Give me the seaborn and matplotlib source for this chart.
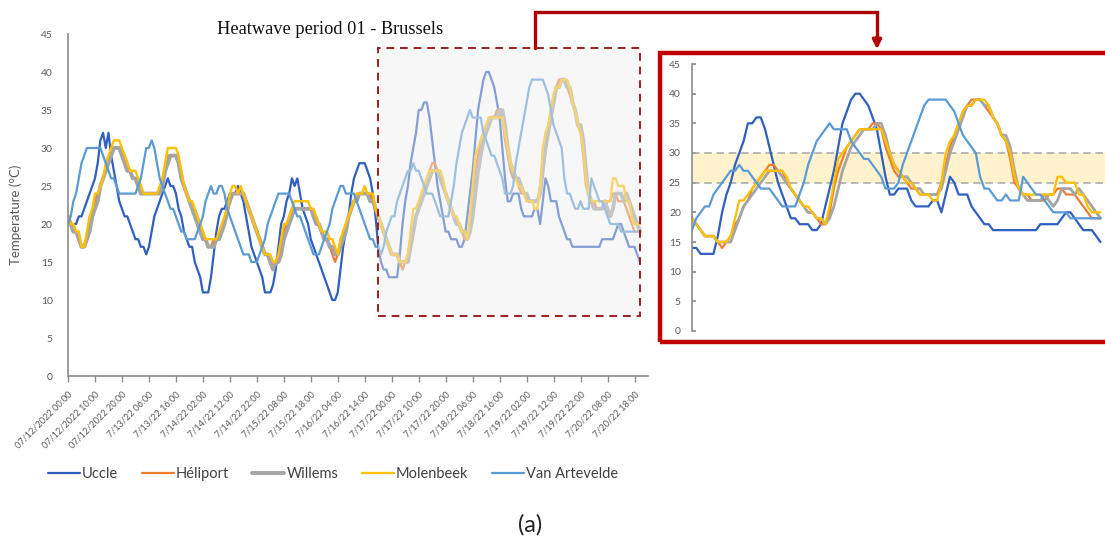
import numpy as np
import pandas as pd
import matplotlib
matplotlib.use("Agg")
import matplotlib.pyplot as plt
import seaborn as sns
from matplotlib.patches import Rectangle, FancyArrowPatch
from matplotlib.lines import Line2D

# ---------------- data (hourly temperatures, 07/12/2022 00:00 onwards) ----------------
stations = ["Uccle", "Héliport", "Willems", "Molenbeek", "Van Artevelde"]

uccle = [21,20,20,20,21,21,22,23,24,25,
         26,28,31,32,30,32,29,27,25,23,
         22,21,21,20,19,18,18,17,17,16,
         17,19,21,22,23,24,25,26,25,25,
         24,22,21,19,18,17,17,15,14,13,
         11,11,11,13,16,19,21,22,22,23,
         24,24,24,25,24,23,21,19,17,16,
         15,14,13,11,11,11,12,14,17,20,
         21,23,24,26,25,26,24,22,21,20,
         18,17,16,15,14,13,12,11,10,10,
         11,14,17,19,21,24,26,27,28,28,
         28,27,26,24,21,17,15,14,14,13,
         13,13,13,16,20,23,25,28,30,32,
         35,35,36,36,34,31,28,25,23,21,
         19,19,18,18,18,17,17,18,21,24,
         27,31,35,37,39,40,40,39,38,36,
         34,30,26,23,23,24,24,24,22,21,
         21,21,21,22,22,20,23,26,25,23,
         23,23,21,20,19,18,18,17,17,17,
         17,17,17,17,17,17,17,17,18,18,
         18,18,18,19,20,20,19,18,17,17,
         17,16,15]

heliport = [21,20,19,19,18,17,17,18,20,21,
            23,24,25,26,27,28,29,30,30,30,
            29,29,28,27,26,26,26,25,24,24,
            24,24,24,24,24,26,27,29,29,29,
            29,28,27,25,24,23,22,22,21,20,
            19,18,17,17,18,18,18,19,20,21,
            23,24,24,24,24,24,23,22,21,20,
            19,18,17,16,16,15,14,15,16,17,
            19,20,21,22,22,22,22,22,22,22,
            22,21,21,20,19,18,18,17,16,15,
            16,17,19,20,21,22,23,23,24,24,
            24,24,24,23,22,21,20,19,18,17,
            16,16,16,15,14,15,16,18,19,21,
            22,24,25,26,27,28,28,27,27,25,
            24,23,22,21,20,20,19,18,18,20,
            24,27,29,31,32,33,34,34,34,35,
            35,34,31,29,27,26,26,25,24,24,
            23,23,23,23,23,25,28,31,33,35,
            37,38,39,39,39,38,37,36,35,33,
            32,29,25,24,23,23,22,22,22,22,
            23,23,24,24,23,23,23,22,21,20,
            19,19,19]

willems = [21,20,19,19,18,17,17,18,19,21,
           22,23,25,26,27,28,29,30,30,30,
           29,28,27,27,26,26,25,24,24,24,
           24,24,24,24,24,25,27,28,29,29,
           29,28,26,25,24,23,22,21,20,19,
           18,18,17,17,17,18,18,19,20,22,
           23,24,24,24,24,24,23,22,21,20,
           19,18,17,16,16,15,14,15,15,16,
           18,19,20,21,22,22,22,22,22,22,
           22,21,20,20,19,18,18,17,17,16,
           16,17,18,19,21,22,23,23,24,24,
           24,24,23,23,22,21,20,19,18,17,
           16,16,16,15,15,15,15,17,19,21,
           22,23,24,25,26,27,27,27,26,25,
           24,23,22,21,20,20,19,19,18,19,
           21,24,27,29,31,32,33,34,34,34,
           35,35,33,30,28,27,26,26,25,24,
           24,23,23,23,23,24,27,30,32,34,
           36,38,38,39,39,38,38,36,35,33,
           33,31,27,24,23,22,22,22,22,23,
           22,21,22,24,24,24,23,24,23,22,
           21,20,19]

molenbeek = [21,20,20,19,19,17,17,19,21,22,
             24,24,25,26,28,29,30,31,31,31,
             30,29,28,27,27,27,26,25,24,24,
             24,24,24,24,25,26,28,30,30,30,
             30,29,27,25,24,23,23,22,21,20,
             19,18,18,18,18,18,19,20,21,22,
             24,25,25,24,25,24,23,22,21,20,
             19,18,17,16,16,16,15,15,16,18,
             20,20,21,22,23,23,23,23,23,23,
             22,22,21,20,19,19,19,18,18,17,
             16,18,19,20,21,22,23,24,24,24,
             25,24,24,24,22,21,20,19,18,17,
             16,16,16,15,15,15,16,19,22,22,
             23,24,25,26,27,27,27,27,27,26,
             24,23,22,21,21,20,19,19,18,21,
             25,29,30,31,32,33,34,34,34,34,
             34,34,32,30,28,27,26,25,25,24,
             23,23,23,22,22,25,30,32,33,35,
             37,38,38,39,39,39,38,36,35,33,
             32,30,26,24,23,23,23,23,23,23,
             23,23,26,26,25,25,25,23,23,21,
             20,20,20]

van_artevelde = [20,21,23,24,26,28,29,30,30,30,
                 30,30,30,29,28,27,26,26,25,24,
                 24,24,24,24,24,24,25,26,28,30,
                 30,31,30,28,26,25,24,23,22,22,
                 21,20,19,19,18,18,18,18,19,20,
                 21,23,24,25,24,24,25,25,24,22,
                 21,20,19,18,17,16,16,16,15,15,
                 15,16,17,18,20,21,22,23,24,24,
                 24,24,24,23,22,21,21,20,19,18,
                 17,16,16,16,17,18,19,20,22,23,
                 24,25,25,24,24,24,24,23,22,21,
                 20,19,18,18,17,17,16,17,19,20,
                 21,21,23,24,25,26,27,27,28,27,
                 27,26,25,24,24,24,23,22,21,21,
                 21,21,23,25,28,30,32,33,34,35,
                 34,34,34,34,32,31,30,29,29,28,
                 27,26,24,24,24,25,28,30,32,34,
                 36,38,39,39,39,39,39,38,37,35,
                 33,32,31,30,26,24,24,23,22,22,
                 23,22,22,22,26,25,24,23,23,22,
                 21,20,20,20,20,19,19,19,19,19,
                 19,19,19]

tick_labels = ["07/12/2022 00:00", "07/12/2022 10:00", "07/12/2022 20:00",
               "7/13/22 06:00", "7/13/22 16:00", "7/14/22 02:00", "7/14/22 12:00",
               "7/14/22 22:00", "7/15/22 08:00", "7/15/22 18:00", "7/16/22 04:00",
               "7/16/22 14:00", "7/17/22 00:00", "7/17/22 10:00", "7/17/22 20:00",
               "7/18/22 06:00", "7/18/22 16:00", "7/19/22 02:00", "7/19/22 12:00",
               "7/19/22 22:00", "7/20/22 08:00", "7/20/22 18:00"]
tick_step = 10  # hours between labels

series = {"Uccle": uccle, "Héliport": heliport, "Willems": willems,
          "Molenbeek": molenbeek, "Van Artevelde": van_artevelde}
frames = []
for name, vals in series.items():
    frames.append(pd.DataFrame({"hour": np.arange(len(vals)), "temp": vals, "station": name}))
df = pd.concat(frames, ignore_index=True)

colors = {"Uccle": "#2f5fbf", "Héliport": "#ed7d31", "Willems": "#a5a5a5",
          "Molenbeek": "#ffc000", "Van Artevelde": "#5b9bd5"}
widths = {"Uccle": 1.6, "Héliport": 1.6, "Willems": 2.8, "Molenbeek": 1.7, "Van Artevelde": 1.6}

# ---------------- figure ----------------
sns.set_theme(style="white")
plt.rcParams['font.family'] = ['Lato', 'DejaVu Sans']

W, H = 1105, 549
fig = plt.figure(figsize=(W / 100, H / 100), dpi=100)


def fr(x0, y0, x1, y1):
    return [x0 / W, 1 - y1 / H, (x1 - x0) / W, (y1 - y0) / H]


grey_txt = "#595959"
axis_col = "#8c8c8c"

# main chart
ax = fig.add_axes(fr(68, 34, 648, 376))
for s in stations:
    sns.lineplot(data=df[df.station == s], x="hour", y="temp", color=colors[s],
                 linewidth=widths[s], ax=ax, label=s, legend=False, errorbar=None)
ax.set_xlim(0, 215)
ax.set_ylim(0, 45)
ax.set_yticks(np.arange(0, 46, 5))
ax.set_xticks(np.arange(len(tick_labels)) * tick_step)
ax.set_xticklabels(tick_labels, rotation=45, ha="right", rotation_mode="anchor")
ax.tick_params(axis="x", length=4, width=1, color=axis_col, labelsize=6.6,
               labelcolor=grey_txt, pad=6, bottom=True)
ax.tick_params(axis="y", length=0, labelsize=7.5, labelcolor=grey_txt, pad=11)
for sp in ["top", "right"]:
    ax.spines[sp].set_visible(False)
for sp in ["left", "bottom"]:
    ax.spines[sp].set_color(axis_col)
    ax.spines[sp].set_linewidth(1.2)
ax.set_xlabel("")
ax.set_ylabel("Temperature (°C)", fontsize=9.5, color=grey_txt)
ax.yaxis.set_label_coords(-(68 - 22) / 580, 0.47)

# highlighted period box
ax.add_patch(Rectangle((114.8, 7.9), 97.2, 35.3, facecolor="#eeeeee", alpha=0.45,
                       edgecolor="none", zorder=5))
ax.add_patch(Rectangle((114.8, 7.9), 97.2, 35.3, fill=False, edgecolor="#9c1f1f",
                       linestyle=(0, (4, 3)), linewidth=1.4, zorder=6))

fig.text(330 / W, 1 - 29 / H, "Heatwave period 01 - Brussels", family="Liberation Serif",
         fontsize=13.2, ha="center", va="center", color="#111111")

# connector arrow
red = "#b00000"
fig.add_artist(Line2D([535 / W, 535 / W, 877 / W, 877 / W],
                      [1 - 48 / H, 1 - 12 / H, 1 - 12 / H, 1 - 38 / H],
                      transform=fig.transFigure, color=red, lw=2.4,
                      solid_joinstyle="miter"))
fig.add_artist(FancyArrowPatch((877 / W, 1 - 34 / H), (877 / W, 1 - 52 / H),
                               transform=fig.transFigure, arrowstyle="-|>",
                               mutation_scale=13, color=red, lw=2.4))

# inset frame
fig.add_artist(Rectangle((660 / W, 1 - 342 / H), 500 / W, (342 - 53) / H,
                         transform=fig.transFigure, fill=False, edgecolor="#c00000", lw=3.2))

# inset chart
ax2 = fig.add_axes(fr(692, 64, 1105, 331))
ax2.axhspan(25, 30, color="#fff2cc", zorder=0, lw=0)
ax2.axhline(25, color="#a6a6a6", ls=(0, (5, 3)), lw=1.1, zorder=1)
ax2.axhline(30, color="#a6a6a6", ls=(0, (5, 3)), lw=1.1, zorder=1)
for s in stations:
    sns.lineplot(data=df[df.station == s], x="hour", y="temp", color=colors[s],
                 linewidth=1.6 if s != "Willems" else 2.0, ax=ax2, legend=False, errorbar=None)
ax2.set_xlim(117, 117 + (1105 - 692) / 4.3)
ax2.set_ylim(0, 45)
ax2.set_yticks(np.arange(0, 46, 5))
ax2.set_xticks([])
ax2.set_xlabel("")
ax2.set_ylabel("")
ax2.tick_params(axis="y", direction="in", length=3, color=axis_col, labelsize=7.5,
                labelcolor=grey_txt, pad=8, left=True)
for sp in ["top", "right", "bottom"]:
    ax2.spines[sp].set_visible(False)
ax2.spines["left"].set_color(axis_col)
ax2.spines["left"].set_linewidth(1.2)
ax2.patch.set_alpha(0)

# legend
handles = [Line2D([], [], color=colors[s], lw=widths[s]) for s in stations]
leg = fig.legend(handles, stations, loc="center", bbox_to_anchor=(333 / W, 1 - 474 / H),
                 ncol=5, frameon=False, fontsize=10.5, handlelength=2.2,
                 handletextpad=0.15, columnspacing=1.6)
for t in leg.get_texts():
    t.set_color("#404040")

fig.text(530 / W, 1 - 525 / H, "(a)", fontsize=17, ha="center", va="center", color="#222222")

fig.savefig("out.png", dpi=100)
